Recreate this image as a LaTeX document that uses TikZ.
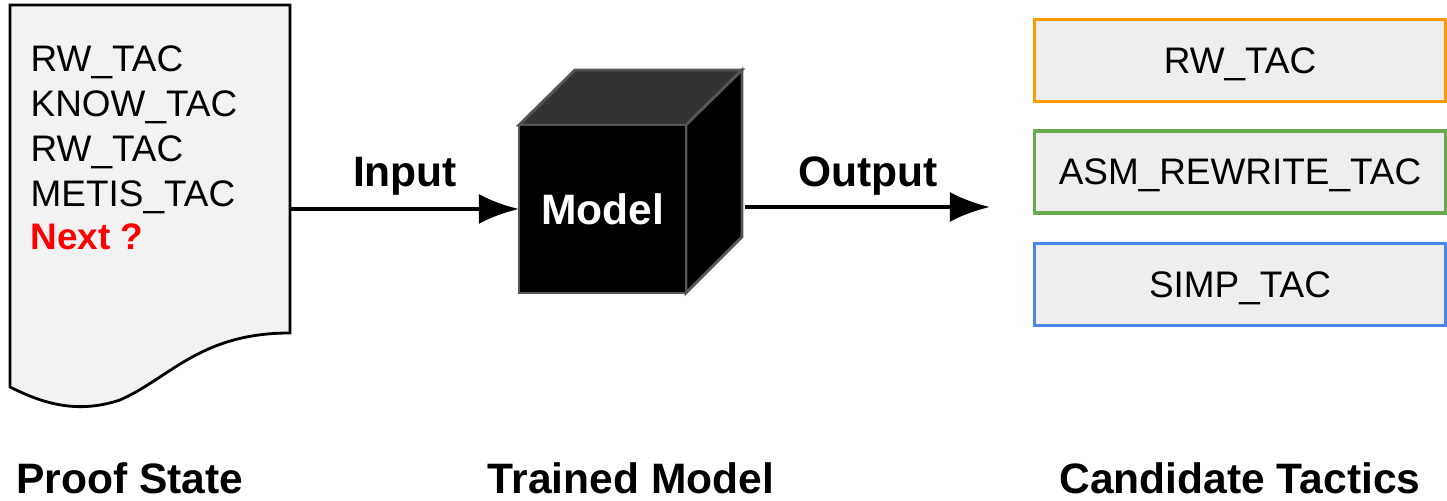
\documentclass[tikz,border=0pt]{standalone}
\usepackage{fontspec}
\setmainfont{Liberation Sans}
\usepackage{xcolor}
\usepackage{tikz}
\usetikzlibrary{arrows.meta}

\definecolor{docfill}{HTML}{F2F2F2}
\definecolor{boxfill}{HTML}{EEEEEE}
\definecolor{cubetop}{HTML}{333333}
\definecolor{cubeedge}{HTML}{555555}
\definecolor{tacorange}{HTML}{FF9900}
\definecolor{tacgreen}{HTML}{6AA84F}
\definecolor{tacblue}{HTML}{4A86E8}

\tikzset{
	txt/.style={font=\fontsize{10.5}{13}\selectfont, inner sep=0pt},
	boldtxt/.style={font=\fontsize{12.1}{14}\selectfont\bfseries, inner sep=0pt},
	caption/.style={font=\fontsize{12.1}{15}\selectfont\bfseries, inner sep=0pt},
	tactic/.style={txt, draw, line width=0.9pt, fill=boxfill, text depth=0pt, minimum width=4.1cm, minimum height=0.82cm},
	flow/.style={-{Latex[length=4mm,width=3mm]}, line width=1.2pt}
}

\begin{document}
\begin{tikzpicture}[x=0.01cm, y=-0.01cm]
				\useasboundingbox (0,0) rectangle (1447,501);
				
				% proof state document
				\draw[fill=docfill, line width=0.8pt] (10,5) -- (290,5) -- (290,333)
					.. controls (200,333) and (170,378) .. (120,400)
					.. controls (75,415) and (40,402) .. (10,387) -- cycle;
				\coordinate (docout) at (290,209);
				\node[txt, anchor=base west] (s1) at (30,72) {RW\_TAC};
				\node[txt, anchor=base west] (s2) at (30,117) {KNOW\_TAC};
				\node[txt, anchor=base west] (s3) at (30,162) {RW\_TAC};
				\node[txt, anchor=base west] (s4) at (30,207) {METIS\_TAC};
				\node[txt, anchor=base west, text=red, font=\fontsize{10.5}{13}\selectfont\bfseries] (s5) at (30,250) {Next ?};
				
				% model cube
				\draw[fill=cubetop, draw=cubeedge, line width=0.8pt] (519,125) -- (575,70) -- (742,70) -- (686,125) -- cycle;
				\draw[fill=black, draw=cubeedge, line width=0.8pt] (686,125) -- (742,70) -- (742,237) -- (686,293) -- cycle;
				\draw[fill=black, draw=cubeedge, line width=0.8pt] (519,125) rectangle (686,293);
				\node[boldtxt, text=white, anchor=base] (model) at (603,225) {Model};
				\coordinate (modelin) at (519,209);
				\coordinate (modelout) at (745,207);
				\coordinate (tacin) at (990,207);
				
				\path [flow] (docout) edge (modelin);
				\path [flow] (modelout) edge (tacin);
				\node[boldtxt, anchor=base] (input) at (405,187) {Input};
				\node[boldtxt, anchor=base] (output) at (868,187) {Output};
				
				% candidate tactics
				\node[tactic, draw=tacorange] (t1) at (1240,60.5) {RW\_TAC};
				\node[tactic, draw=tacgreen] (t2) at (1240,172) {ASM\_REWRITE\_TAC};
				\node[tactic, draw=tacblue] (t3) at (1240,284.5) {SIMP\_TAC};
				
				% captions
				\node[caption, anchor=base] (c1) at (130,494) {Proof State};
				\node[caption, anchor=base] (c2) at (631,494) {Trained Model};
				\node[caption, anchor=base] (c3) at (1240,494) {Candidate Tactics};
			\end{tikzpicture}
\end{document}
